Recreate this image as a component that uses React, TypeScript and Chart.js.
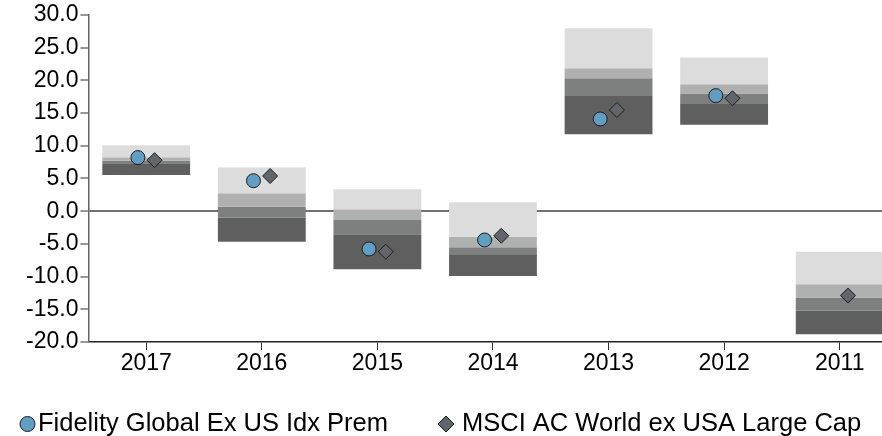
import React, { useEffect, useRef } from 'react';
import { Chart, registerables, Plugin } from 'chart.js';
Chart.register(...registerables);

const categories = ['2017', '2016', '2015', '2014', '2013', '2012', '2011'];
const rangeTop = [10.1, 6.7, 3.35, 1.36, 27.97, 23.5, -6.19];
const quartile1 = [8.24, 2.74, 0.29, -3.9, 21.85, 19.4, -11.18];
const quartile2 = [7.72, 0.69, -1.35, -5.52, 20.32, 18.0, -13.2];
const quartile3 = [7.32, -0.99, -3.53, -6.7, 17.6, 16.4, -15.2];
const rangeBottom = [5.53, -4.66, -8.88, -9.91, 11.76, 13.2, -18.8];
const fundReturns: (number | null)[] = [8.2, 4.66, -5.78, -4.4, 14.1, 17.67, null];
const benchmarkReturns = [7.8, 5.38, -6.19, -3.75, 15.47, 17.26, -12.9];
const yTickValues = [-20, -15, -10, -5, 0, 5, 10, 15, 20, 25, 30];
const seriesNames = ['Fidelity Global Ex US Idx Prem', 'MSCI AC World ex USA Large Cap'];

const FONT = '"Liberation Sans", Arial, sans-serif';
const TICK_SIZE = 23;
const LEGEND_SIZE = 25.5;

function drawMarker(ctx: CanvasRenderingContext2D, style: string, x: number, y: number, r: number) {
  ctx.beginPath();
  if (style === 'circle') {
    ctx.arc(x, y, r, 0, Math.PI * 2);
  } else {
    ctx.moveTo(x, y - r);
    ctx.lineTo(x + r, y);
    ctx.lineTo(x, y + r);
    ctx.lineTo(x - r, y);
    ctx.closePath();
  }
  ctx.fill();
  ctx.stroke();
}

// Legend drawn by a small Chart.js plugin, using the datasets' own labels and styles.
const legendPlugin: Plugin = {
  id: 'bottomLegend',
  afterDraw(chart) {
    const ctx = chart.ctx;
    const items = [
      { ds: 4, markerX: 27.5, textX: 38 },
      { ds: 5, markerX: 446, textX: 462 },
    ];
    const y = 424;
    ctx.save();
    items.forEach((it) => {
      const ds: any = chart.data.datasets[it.ds];
      ctx.fillStyle = ds.backgroundColor;
      ctx.strokeStyle = ds.borderColor;
      ctx.lineWidth = ds.borderWidth;
      drawMarker(ctx, ds.pointStyle, it.markerX, y, ds.pointRadius + 0.5);
      ctx.fillStyle = '#000';
      ctx.font = `${LEGEND_SIZE}px ${FONT}`;
      ctx.textBaseline = 'middle';
      ctx.textAlign = 'left';
      ctx.fillText(ds.label, it.textX, y);
    });
    ctx.restore();
  },
};

export default function App() {
  const ref = useRef<HTMLCanvasElement>(null);
  useEffect(() => {
    const canvas = ref.current!;
    const band = (lo: number[], hi: number[], color: string) => ({
      type: 'bar' as const,
      data: categories.map((_, i) => [lo[i], hi[i]]),
      backgroundColor: color,
      borderWidth: 0,
      grouped: false,
      categoryPercentage: 1,
      barPercentage: 0.76,
      order: 2,
      xAxisID: 'x',
      yAxisID: 'y',
    });
    const chart = new Chart(canvas, {
      type: 'bar',
      data: {
        labels: categories,
        datasets: [
          band(quartile1, rangeTop, '#dcdcdc') as any,
          band(quartile2, quartile1, '#b0b0b0'),
          band(quartile3, quartile2, '#7e7f7f'),
          band(rangeBottom, quartile3, '#5f5f5f'),
          {
            type: 'scatter',
            label: seriesNames[0],
            data: categories.map((_, i) => ({ x: i - 0.072, y: fundReturns[i] })),
            backgroundColor: '#619ec2',
            borderColor: '#1c1c1c',
            borderWidth: 1,
            pointStyle: 'circle',
            pointRadius: 7,
            xAxisID: 'x2',
            yAxisID: 'y',
            order: 0,
          },
          {
            type: 'scatter',
            label: seriesNames[1],
            data: categories.map((_, i) => ({ x: i + 0.072, y: benchmarkReturns[i] })),
            backgroundColor: '#62656c',
            borderColor: '#1c1c1c',
            borderWidth: 1,
            pointStyle: 'rectRot',
            pointRadius: 7.5,
            xAxisID: 'x2',
            yAxisID: 'y',
            order: 0,
          },
        ],
      },
      plugins: [legendPlugin],
      options: {
        animation: false,
        responsive: false,
        devicePixelRatio: 1,
        layout: { padding: { left: 24, right: 1, top: 0, bottom: 58.4 } },
        plugins: {
          tooltip: { enabled: false },
          legend: { display: false },
        },
        scales: {
          x: {
            type: 'category',
            offset: true,
            grid: { display: true, offset: false, drawOnChartArea: false, tickLength: 8, tickColor: '#333', tickWidth: 1 },
            border: { color: '#222', width: 1.5 },
            ticks: { color: '#000', font: { family: FONT, size: TICK_SIZE }, padding: 0, maxRotation: 0 },
          },
          x2: {
            type: 'linear',
            display: false,
            offset: false,
            bounds: 'data',
            min: -0.5,
            max: 6.5,
          },
          y: {
            type: 'linear',
            min: -20,
            max: 30,
            afterBuildTicks: (scale: any) => {
              scale.ticks = yTickValues.map((v) => ({ value: v }));
            },
            grid: {
              color: (c: any) => (c.tick && c.tick.value === 0 ? '#707070' : 'rgba(0,0,0,0)'),
              lineWidth: (c: any) => (c.tick && c.tick.value === 0 ? 2 : 0),
              tickColor: '#333',
              tickWidth: 1,
              tickLength: 8,
            },
            border: { color: '#666', width: 1.5 },
            ticks: {
              color: '#000',
              font: { family: FONT, size: TICK_SIZE, lineHeight: 1.13 },
              padding: 2,
              callback: (v: any) => Number(v).toFixed(1),
            },
          },
        },
      },
    });
    return () => chart.destroy();
  }, []);
  return (
    <div style={{ position: 'fixed', left: 0, top: 0, width: 882, height: 436, overflow: 'hidden', background: '#fff' }}>
      <canvas ref={ref} width={906} height={436} style={{ display: 'block', width: 906, height: 436 }} />
    </div>
  );
}
